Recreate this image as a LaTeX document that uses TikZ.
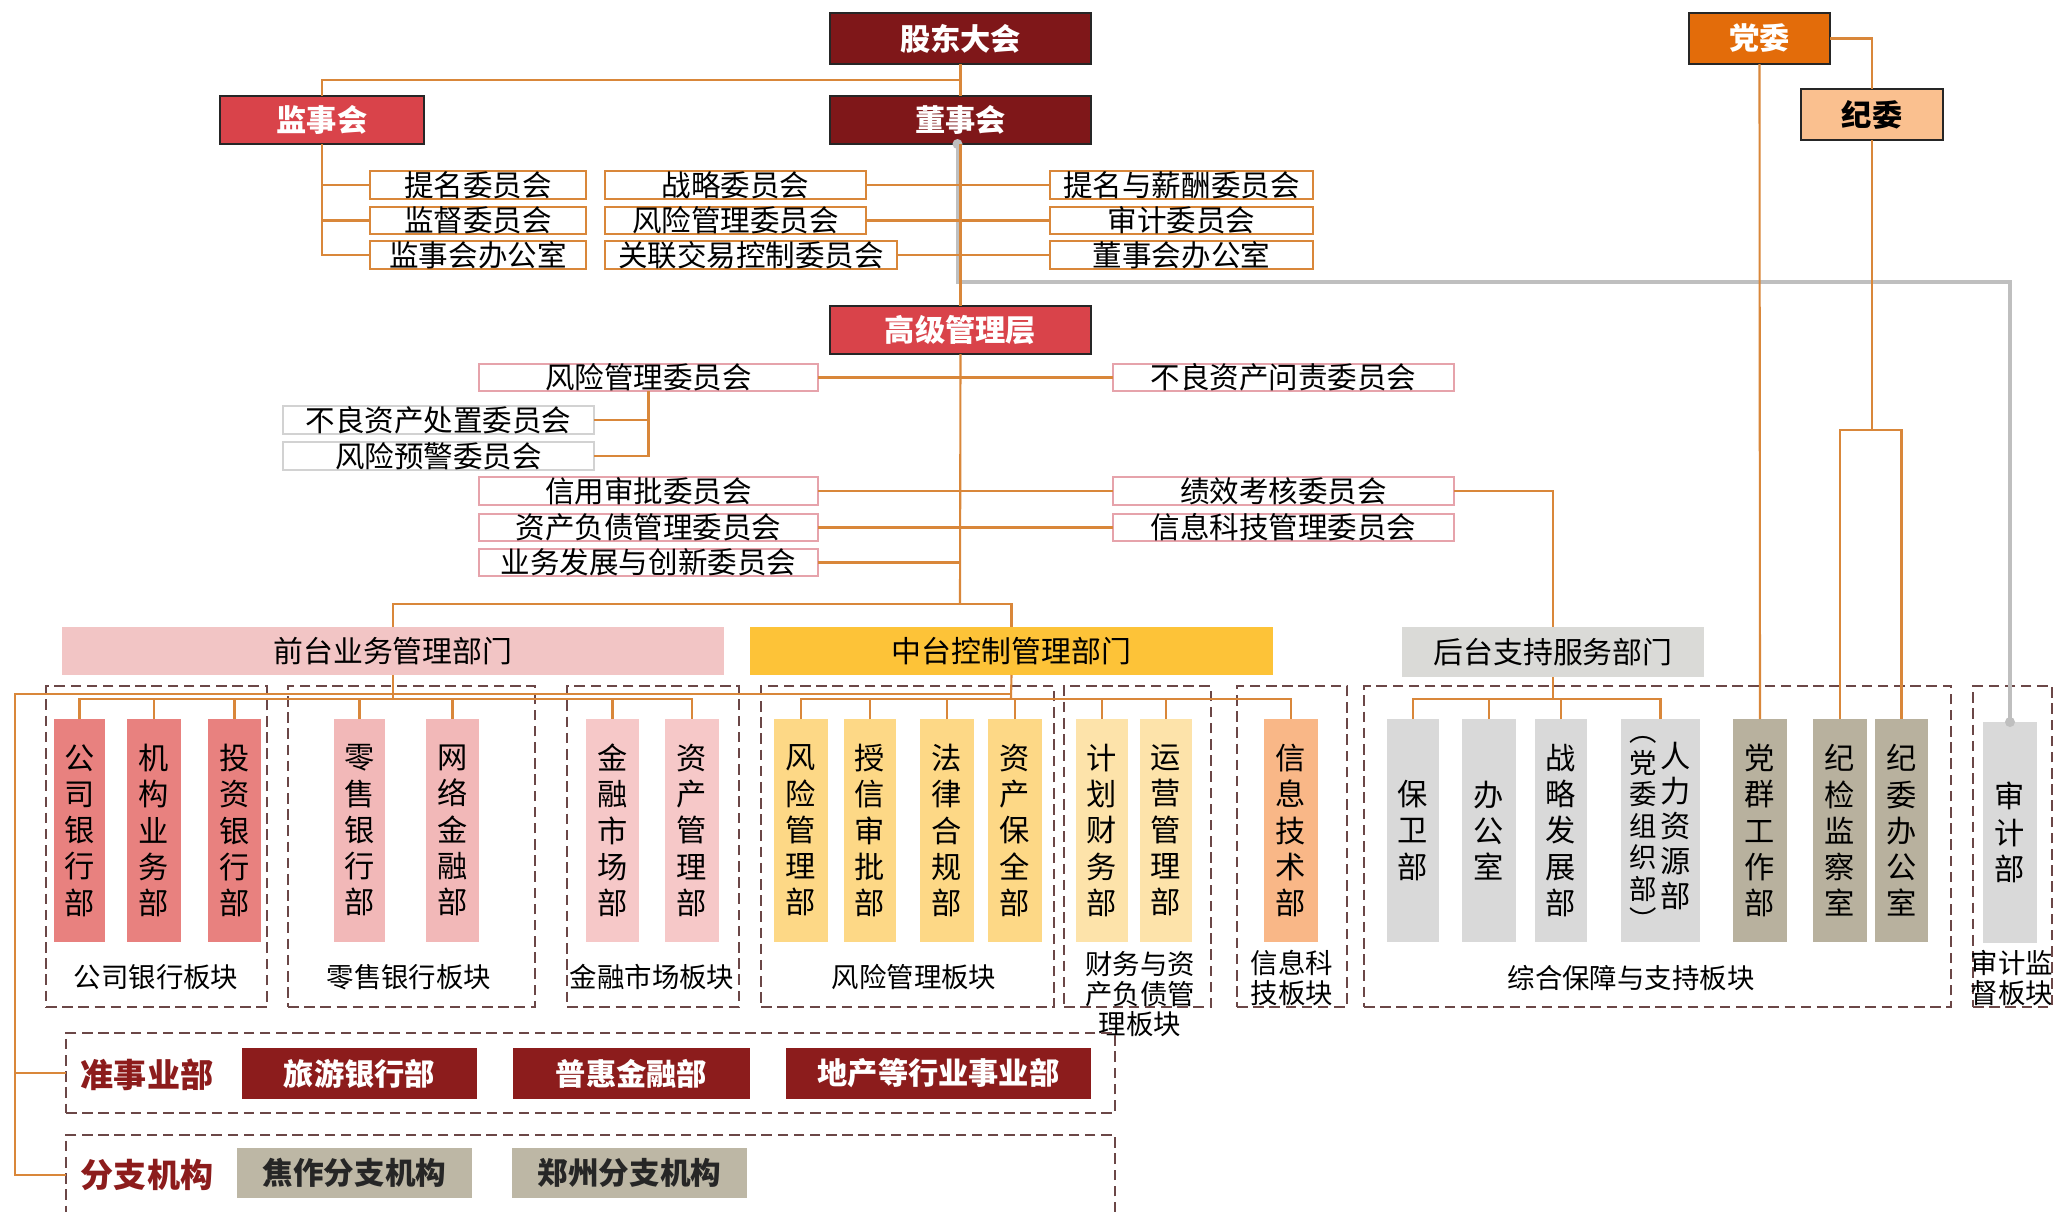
\documentclass[tikz,border=0pt]{standalone}
\usepackage{fontspec}
\newfontfamily\cjk{Noto Sans CJK SC}
\usetikzlibrary{calc}
\newdimen\px \px=0.01cm
\definecolor{lnc}{HTML}{D9873A}
\definecolor{dredc}{HTML}{7F1719}
\definecolor{redc}{HTML}{D9434A}
\definecolor{orgc}{HTML}{E36C0A}
\definecolor{peachc}{HTML}{FAC08F}
\definecolor{pinkbd}{HTML}{E6A3AB}
\definecolor{greybd}{HTML}{D2D2D2}
\definecolor{hqc}{HTML}{F2C5C5}
\definecolor{hzc}{HTML}{FDC338}
\definecolor{hhc}{HTML}{DADAD7}
\definecolor{dashc}{HTML}{6B4747}
\definecolor{cA}{HTML}{E8817F}
\definecolor{cB}{HTML}{F2B8B8}
\definecolor{cC}{HTML}{F6C8C8}
\definecolor{cD}{HTML}{FDD886}
\definecolor{cE}{HTML}{FDE3AA}
\definecolor{cF}{HTML}{F9B787}
\definecolor{cG}{HTML}{D9D9D9}
\definecolor{cH}{HTML}{B8B19E}
\definecolor{zbc}{HTML}{8C1C1C}
\definecolor{fbc}{HTML}{BDB7A5}
\definecolor{greyln}{HTML}{BFBFBF}
\newcommand\bx[7]{\node[#6, minimum width={(#4-#2)*\px}, minimum height={(#5-#3)*\px}] (#1) at ({(#2+#4)/2},{(#3+#5)/2}) {#7};}
\begin{document}
\begin{tikzpicture}[x=0.01cm, y=-0.01cm,
  base/.style={inner sep=0pt, outer sep=0pt},
  topbox/.style={base, draw=black!85, line width=0.7pt, text=white, font=\cjk\bfseries\fontsize{8.6}{10}\selectfont},
  cbox/.style={base, draw=lnc, fill=white, line width=0.6pt, font=\cjk\fontsize{8.4}{10}\selectfont},
  pbox/.style={base, draw=pinkbd, fill=white, line width=0.6pt, font=\cjk\fontsize{8.4}{10}\selectfont},
  gbox/.style={base, draw=greybd, fill=white, line width=0.6pt, font=\cjk\fontsize{8.4}{10}\selectfont},
  hdr/.style={base, font=\cjk\fontsize{8.5}{10}\selectfont},
  blk/.style={base, draw=dashc, dash pattern=on 3pt off 1.6pt, line width=0.6pt},
  dept/.style={base, align=center, font=\cjk\fontsize{8.6}{10.3}\selectfont},
  deptb/.style={base, font=\cjk\fontsize{8.6}{10.3}\selectfont},
  blabel/.style={base, align=center, font=\cjk\fontsize{7.8}{8.6}\selectfont},
  lowlab/.style={base, text=zbc, font=\cjk\bfseries\fontsize{9.4}{11}\selectfont},
  zbox/.style={base, fill=zbc, text=white, font=\cjk\bfseries\fontsize{8.6}{10}\selectfont},
  brbox/.style={base, fill=fbc, text=black!85, font=\cjk\bfseries\fontsize{8.7}{10}\selectfont},
  conn/.style={draw=lnc, line width=0.6pt},
  greyline/.style={draw=greyln, line width=0.9pt}
]
\useasboundingbox (0,0) rectangle (2056,1211);
\clip (0,0) rectangle (2056,1211);
\fill[white] (0,0) rectangle (2056,1211);

% top governance
\bx{gd}{830}{13}{1091}{64}{topbox, fill=dredc}{股东大会}
\bx{dsh}{830}{96}{1091}{144}{topbox, fill=dredc}{董事会}
\bx{jsh}{220}{96}{424}{144}{topbox, fill=redc}{监事会}
\bx{gg}{830}{306}{1091}{354}{topbox, fill=redc}{高级管理层}
\bx{dw}{1689}{13}{1830}{64}{topbox, fill=orgc}{党委}
\bx{jw}{1801}{89}{1943}{140}{topbox, fill=peachc, text=black}{纪委}

% committees of supervisory board and board
\bx{j1}{370}{172}{586}{198}{cbox}{提名委员会}
\bx{j2}{370}{207}{586}{234}{cbox}{监督委员会}
\bx{j3}{370}{242}{586}{268}{cbox}{监事会办公室}
\bx{d1}{605}{172}{866}{198}{cbox}{战略委员会}
\bx{d2}{605}{207}{866}{234}{cbox}{风险管理委员会}
\bx{d3}{605}{242}{897}{268}{cbox}{关联交易控制委员会}
\bx{d4}{1050}{172}{1313}{198}{cbox}{提名与薪酬委员会}
\bx{d5}{1050}{207}{1313}{234}{cbox}{审计委员会}
\bx{d6}{1050}{242}{1313}{268}{cbox}{董事会办公室}

% senior management committees
\bx{g1}{479}{364}{818}{391}{pbox}{风险管理委员会}
\bx{g2}{1113}{364}{1454}{391}{pbox}{不良资产问责委员会}
\bx{g3}{283}{407}{594}{433}{gbox}{不良资产处置委员会}
\bx{g4}{283}{443}{594}{469}{gbox}{风险预警委员会}
\bx{g5}{479}{478}{818}{504}{pbox}{信用审批委员会}
\bx{g6}{479}{514}{818}{541}{pbox}{资产负债管理委员会}
\bx{g7}{479}{549}{818}{576}{pbox}{业务发展与创新委员会}
\bx{g8}{1113}{478}{1454}{504}{pbox}{绩效考核委员会}
\bx{g9}{1113}{514}{1454}{541}{pbox}{信息科技管理委员会}

% headers
\bx{hq}{62}{627}{724}{675}{hdr, fill=hqc}{前台业务管理部门}
\bx{hz}{750}{627}{1273}{675}{hdr, fill=hzc}{中台控制管理部门}
\bx{hh}{1402}{627}{1704}{677}{hdr, fill=hhc}{后台支持服务部门}

% dashed blocks
\bx{b1}{46}{686}{267}{1007}{blk}{}
\bx{b2}{288}{686}{535}{1007}{blk}{}
\bx{b3}{567}{686}{739}{1007}{blk}{}
\bx{b4}{761}{686}{1054}{1007}{blk}{}
\bx{b5}{1064}{686}{1211}{1007}{blk}{}
\bx{b6}{1237}{686}{1347}{1007}{blk}{}
\bx{b7}{1364}{686}{1951}{1007}{blk}{}
\bx{b8}{1973}{686}{2052}{1007}{blk}{}
\node[blabel] (l1) at (156,977) {公司银行板块};
\node[blabel] (l2) at (409,977) {零售银行板块};
\node[blabel] (l3) at (652,977) {金融市场板块};
\node[blabel] (l4) at (914,977) {风险管理板块};
\node[blabel] (l5) at (1140,994) {财务与资\\产负债管\\理板块};
\node[blabel] (l6) at (1292,978) {信息科\\技板块};
\node[blabel] (l7) at (1631,978) {综合保障与支持板块};
\node[blabel] (l8) at (2012,978) {审计监\\督板块};

% departments
\bx{p1}{54}{719}{105}{942}{dept, fill=cA}{公\\司\\银\\行\\部}
\bx{p2}{127}{719}{181}{942}{dept, fill=cA}{机\\构\\业\\务\\部}
\bx{p3}{208}{719}{261}{942}{dept, fill=cA}{投\\资\\银\\行\\部}
\bx{p4}{334}{719}{385}{942}{dept, fill=cB}{零\\售\\银\\行\\部}
\bx{p5}{426}{719}{479}{942}{dept, fill=cB}{网\\络\\金\\融\\部}
\bx{p6}{586}{719}{639}{942}{dept, fill=cC}{金\\融\\市\\场\\部}
\bx{p7}{665}{719}{719}{942}{dept, fill=cC}{资\\产\\管\\理\\部}
\bx{p8}{774}{719}{828}{942}{dept, fill=cD}{风\\险\\管\\理\\部}
\bx{p9}{844}{719}{896}{942}{dept, fill=cD}{授\\信\\审\\批\\部}
\bx{p10}{920}{719}{974}{942}{dept, fill=cD}{法\\律\\合\\规\\部}
\bx{p11}{988}{719}{1042}{942}{dept, fill=cD}{资\\产\\保\\全\\部}
\bx{p12}{1076}{719}{1128}{942}{dept, fill=cE}{计\\划\\财\\务\\部}
\bx{p13}{1140}{719}{1192}{942}{dept, fill=cE}{运\\营\\管\\理\\部}
\bx{p14}{1264}{719}{1318}{942}{dept, fill=cF}{信\\息\\技\\术\\部}
\bx{p15}{1387}{719}{1439}{942}{dept, fill=cG}{保\\卫\\部}
\bx{p16}{1462}{719}{1516}{942}{dept, fill=cG}{办\\公\\室}
\bx{p17}{1535}{719}{1587}{942}{dept, fill=cG}{战\\略\\发\\展\\部}
\bx{p18}{1621}{719}{1700}{942}{deptb, fill=cG}{{\fontsize{7.8}{8.1}\selectfont\begin{tabular}[c]{@{}c@{}}︵\\党\\委\\组\\织\\部\\︶\end{tabular}}\hspace{1pt}{\fontsize{8.6}{9.2}\selectfont\begin{tabular}[c]{@{}c@{}}人\\力\\资\\源\\部\end{tabular}}}
\bx{p19}{1733}{719}{1787}{942}{dept, fill=cH}{党\\群\\工\\作\\部}
\bx{p20}{1813}{719}{1867}{942}{dept, fill=cH}{纪\\检\\监\\察\\室}
\bx{p21}{1875}{719}{1928}{942}{dept, fill=cH}{纪\\委\\办\\公\\室}
\bx{sj}{1983}{722}{2037}{943}{dept, fill=cG}{审\\计\\部}

% lower section
\bx{zs}{66}{1033}{1115}{1113}{blk}{}
\bx{fz}{66}{1135}{1115}{1215}{blk}{}
\node[lowlab] (zl) at (147,1075) {准事业部};
\node[lowlab] (fl) at (147,1175) {分支机构};
\bx{z1}{242}{1048}{477}{1099}{zbox}{旅游银行部}
\bx{z2}{513}{1048}{750}{1099}{zbox}{普惠金融部}
\bx{z3}{786}{1048}{1091}{1099}{zbox}{地产等行业事业部}
\bx{f1}{237}{1148}{472}{1198}{brbox}{焦作分支机构}
\bx{f2}{512}{1148}{747}{1198}{brbox}{郑州分支机构}

% coordinates
\coordinate (gk) at (960,282);
\coordinate (bus1) at (960,604);
\coordinate (jk) at (1872,430);
\coordinate (qb) at (393,699);
\coordinate (zb) at (1011,699);
\coordinate (hb) at (1553,699);
\coordinate (lb) at (15,694);

% grey audit line
\draw[greyline] ($(dsh.south)+(-3,0)$) |- (gk) -| (sj.north);
\fill[greyln] ($(dsh.south)+(-3,0)$) circle (5);
\fill[greyln] (sj.north) circle (5);

% connectors
\draw[conn] (gd) -- (dsh);
\draw[conn] (jsh.north) |- ($(gd.south)!0.5!(dsh.north)$);
\draw[conn] (jsh.south) |- (j1.west);
\draw[conn] (jsh.south) |- (j2.west);
\draw[conn] (jsh.south) |- (j3.west);
\draw[conn] (dsh) -- (gg);
\draw[conn] (d1.east) -- (d4.west);
\draw[conn] (d2.east) -- (d5.west);
\draw[conn] (d3.east) -- (d6.west);
\draw[conn] (dw.east) -| (jw.north);
\draw[conn] (dw.south) -- (p19.north);
\draw[conn] (jw.south) -- (jk);
\draw[conn] (p20.north) |- (jk) -| (p21.north);

\draw[conn] (gg.south) -- (bus1);
\draw[conn] (hq.north) |- (bus1) -| (hz.north);
\draw[conn] (g1.east) -- (g2.west);
\draw[conn] (g1.south) |- (g3.east);
\draw[conn] (g1.south) |- (g4.east);
\draw[conn] (g5.east) -- (g8.west);
\draw[conn] (g6.east) -- (g9.west);
\draw[conn] (g7.east) -- (g7.east -| gg.south);
\draw[conn] (g8.east) -| (hh.north);

% front office bus
\draw[conn] (hq.south) -- (qb);
\draw[conn] (p1.north) |- (qb) -| (p7.north);
\foreach \i in {2,...,6} \draw[conn] (p\i.north) -- (p\i.north |- qb);
% middle office bus
\draw[conn] (hz.south) -- (zb);
\draw[conn] (p8.north) |- (zb) -| (p14.north);
\foreach \i in {9,...,13} \draw[conn] (p\i.north) -- (p\i.north |- zb);
% back office bus
\draw[conn] (hh.south) -- (hb);
\draw[conn] (p15.north) |- (hb) -| (p18.north);
\foreach \i in {16,17} \draw[conn] (p\i.north) -- (p\i.north |- hb);
% left line to quasi-divisions and branches
\draw[conn] (hz.south |- lb) -- (lb) |- (fz.west);
\draw[conn] (lb) |- (zs.west);
\end{tikzpicture}
\end{document}
